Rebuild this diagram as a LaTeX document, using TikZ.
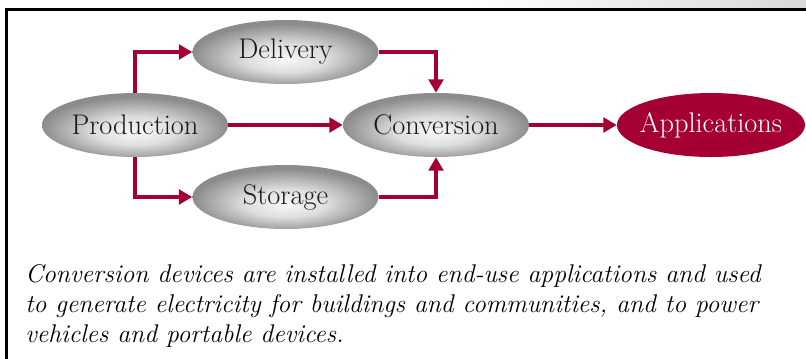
\documentclass[tikz,border=0pt]{standalone}
\usepackage{fontspec}
\usetikzlibrary{
  arrows.meta,
  shapes.geometric,
}
\definecolor{maincolor}{RGB}{165,0,52}
\colorlet{ovalinnercolor}{black!3}
\colorlet{ovalmidcolor}{black!13}
\colorlet{ovaloutercolor}{black!45}
\pgfdeclareradialshading{ovalshading}{\pgfpoint{0bp}{-6bp}}{color(0bp)=(ovalinnercolor); color(11bp)=(ovalmidcolor); color(25bp)=(ovaloutercolor); color(50bp)=(ovaloutercolor)}
\tikzstyle{basicblock}=[ellipse, inner xsep=-18pt, inner ysep=0pt, minimum width=139.5pt, minimum height=48pt, font=\fontsize{21.3}{24}\selectfont]
\tikzstyle{grayblock}=[basicblock, shade, shading=ovalshading, text=black!90]
\tikzstyle{appblock}=[basicblock, fill=maincolor, text=white, minimum width=141pt]
\tikzstyle{flowline}=[-{Triangle[length=10pt,width=11pt]}, line width=2.3pt, draw=maincolor]

\begin{document}
\begin{tikzpicture}[x=0.75pt, y=-0.75pt]
	\useasboundingbox (0,0) rectangle (806,358);
	\shade [left color=white, right color=black!15] (470,0) rectangle (806,8);
	\draw [line width=2pt] (6.5,370) |- (815,9.5);
	\node (production) [grayblock] at (135,125) {Production};
	\path (production) + (150.5,-73) node (delivery) [grayblock] {Delivery};
	\path (production) + (150.5,72) node (storage) [grayblock] {Storage};
	\path (production) + (301,0) node (conversion) [grayblock] {Conversion};
	\path (production) + (576,0) node (applications) [appblock] {Applications};
	\draw [flowline] (production.north) |- (delivery);
	\draw [flowline] (production.south) |- (storage);
	\draw [flowline] (production) -- (conversion);
	\draw [flowline] (delivery) -| (conversion);
	\draw [flowline] (storage) -| (conversion);
	\draw [flowline] (conversion) -- (applications);
	\node (caption) [anchor=north west, inner sep=0pt, align=left, font=\itshape\fontsize{19.2}{22.5}\selectfont] at (25,264) {Conversion devices are installed into end-use applications and used\\to generate electricity for buildings and communities, and to power\\vehicles and portable devices.};
\end{tikzpicture}
\end{document}
